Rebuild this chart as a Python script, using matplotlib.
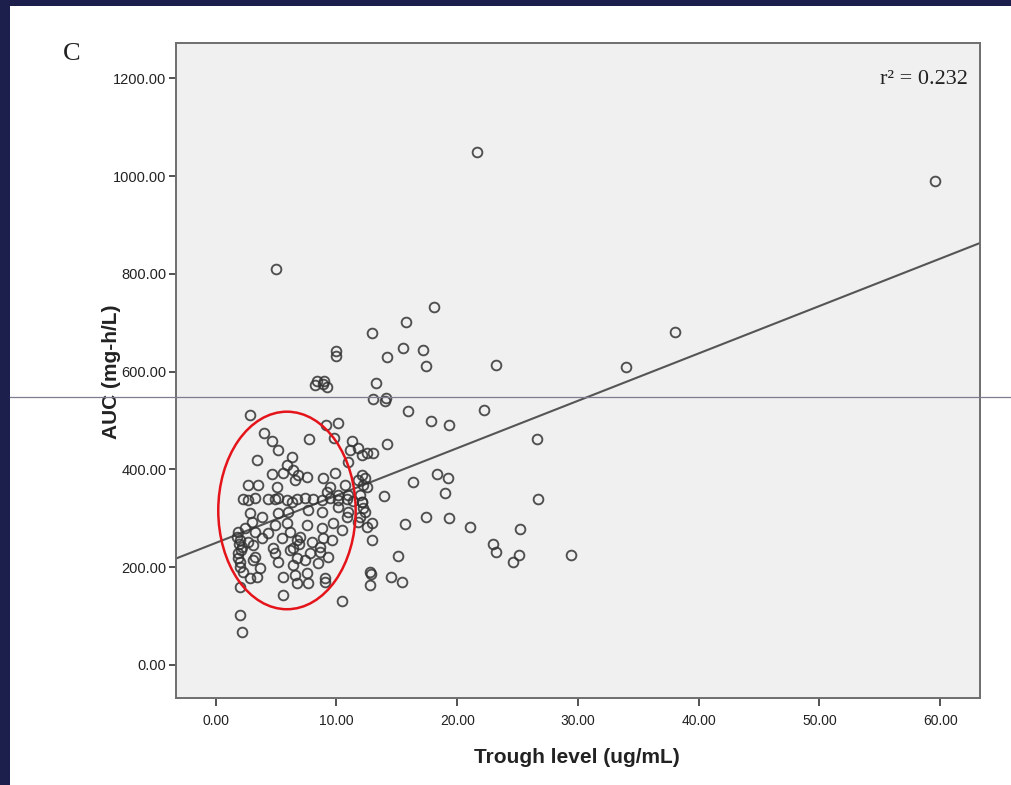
import matplotlib
matplotlib.use("Agg")
import matplotlib.pyplot as plt
from matplotlib.patches import Ellipse, Rectangle
from matplotlib.lines import Line2D

# ---------------- data ----------------
trough = [
    21.6, 59.6, 5.0, 18.1, 15.8, 12.95, 17.2, 15.5, 10.0, 10.0, 14.2, 17.4, 23.2, 34.0, 38.0,
    8.2, 8.4, 8.9, 9.0, 9.2, 13.3, 13.0, 14.1, 14.0, 15.9, 22.2, 17.8, 19.3, 26.6, 26.7,
    14.2, 2.85, 10.1, 9.1, 9.8, 11.3, 11.1, 11.8, 12.1, 12.5, 13.0,
    16.3, 18.3, 19.2, 19.0, 13.9, 12.95, 15.7, 17.4, 19.3, 21.1, 25.2, 12.95, 23.0, 23.2,
    24.6, 25.1, 29.4, 15.1, 12.8, 12.9, 12.8, 14.5, 15.4,
    12.1, 12.4, 12.2, 11.95, 12.1,
    4.0, 4.66, 5.16, 3.42, 6.32, 5.91, 6.4, 6.57, 4.66, 5.58, 7.73, 6.8, 7.56, 8.9, 9.88,
    10.96, 2.68, 3.5, 5.08, 9.47, 10.7, 11.8, 12.5, 9.22, 10.13, 10.96,
    2.26, 2.68, 3.26, 4.33, 4.91, 5.16, 5.91, 6.32, 6.74, 7.40, 8.06, 8.81, 9.47, 10.13,
    10.88, 11.37, 12.12,
    2.84, 5.16, 5.99, 3.84, 7.65, 8.81, 10.13, 10.96, 11.95, 12.2, 12.37, 10.88,
    3.0, 4.91, 5.91, 7.56, 8.81, 9.72, 10.46, 11.79, 12.54, 2.43, 3.26, 4.33, 1.85,
    1.76, 2.01, 2.68, 3.84, 5.5, 2.18, 3.09, 4.74, 6.74, 6.15, 6.98, 7.98, 8.89, 9.63,
    8.64, 6.9, 6.4, 1.9, 2.1,
    1.85, 1.85, 2.01, 2.01, 2.26, 3.26, 3.09, 3.67, 5.16, 4.91, 6.15, 6.74, 7.81, 8.64,
    9.30, 7.40, 6.4, 8.48,
    2.84, 3.42, 2.01, 5.58, 6.57, 6.74, 7.56, 7.65, 9.06, 9.06, 5.58, 10.46, 2.01, 2.18,
]
auc = [
    1050, 990, 810, 732, 701, 679, 644, 648, 642, 632, 630, 611, 613, 609, 681,
    572, 580, 575, 580, 568, 577, 544, 546, 540, 519, 521, 499, 491, 462, 339,
    452, 511, 495, 490, 464, 458, 440, 444, 429, 433, 434,
    375, 391, 383, 352, 346, 290, 288, 303, 301, 282, 278, 256, 248, 231,
    211, 225, 225, 223, 190, 186, 164, 180, 170,
    389, 382, 368, 348, 333,
    474, 458, 440, 419, 425, 409, 399, 378, 391, 393, 462, 389, 384, 382, 393,
    415, 368, 368, 364, 364, 368, 378, 364, 354, 348, 348,
    340, 338, 342, 340, 339, 342, 338, 333, 340, 342, 340, 338, 341, 337,
    340, 336, 333,
    311, 311, 313, 303, 317, 313, 323, 313, 303, 321, 313, 303,
    292, 286, 290, 286, 280, 290, 276, 292, 282, 280, 272, 270, 272,
    262, 256, 252, 260, 260, 241, 245, 239, 256, 272, 262, 252, 260, 256,
    241, 248, 239, 248, 236,
    229, 219, 211, 200, 190, 221, 215, 198, 211, 229, 235, 219, 229, 231,
    221, 215, 204, 209,
    178, 180, 160, 180, 184, 168, 188, 168, 178, 170, 143, 131, 102, 67,
]

x_ticks = [0, 10, 20, 30, 40, 50, 60]
x_tick_labels = ["0.00", "10.00", "20.00", "30.00", "40.00", "50.00", "60.00"]
y_ticks = [0, 200, 400, 600, 800, 1000, 1200]
y_tick_labels = ["0.00", "200.00", "400.00", "600.00", "800.00", "1000.00", "1200.00"]

fit_intercept = 249.6
fit_slope = 9.69
r2_text = "r\u00b2 = 0.232"
panel_label = "C"
x_label = "Trough level (ug/mL)"
y_label = "AUC (mg-h/L)"

# ---------------- figure ----------------
W, H = 1012, 785
fig = plt.figure(figsize=(W / 100, H / 100), dpi=100, facecolor="white")

# navy page border (top and left)
navy = "#1c1e4b"
fig.patches.append(Rectangle((0, 1 - 6 / H), 1, 6 / H, transform=fig.transFigure,
                             facecolor=navy, edgecolor="none", zorder=0))
fig.patches.append(Rectangle((0, 0), 10 / W, 1, transform=fig.transFigure,
                             facecolor=navy, edgecolor="none", zorder=0))

ax_l, ax_r, ax_t, ax_b = 176, 980, 43, 697.7
ax = fig.add_axes([ax_l / W, 1 - ax_b / H, (ax_r - ax_l) / W, (ax_b - ax_t) / H])
ax.set_facecolor("#f0f0f0")

ax.set_xlim(-3.29, 63.3)
ax.set_ylim(-66.9, 1272)

ax.plot(trough, auc, linestyle="none", marker="o", markersize=7.0,
        markerfacecolor="none", markeredgecolor="#333333", markeredgewidth=1.35,
        alpha=0.85, zorder=3)

x0, x1 = ax.get_xlim()
ax.plot([x0, x1], [fit_intercept + fit_slope * x0, fit_intercept + fit_slope * x1],
        color="#555555", linewidth=1.5, zorder=2)

# red ellipse annotation
ax.add_patch(Ellipse((5.9, 316), 11.38, 404, facecolor="none", edgecolor="#e5141b",
                     linewidth=1.8, zorder=4))

for s in ax.spines.values():
    s.set_color("#6e6e6e")
    s.set_linewidth(1.4)

ax.set_xticks(x_ticks)
ax.set_xticklabels(x_tick_labels)
ax.set_yticks(y_ticks)
ax.set_yticklabels(y_tick_labels)
ax.tick_params(axis="x", direction="out", length=6, width=1.3, color="#444444",
               pad=6, labelsize=10, labelcolor="#222222")
ax.tick_params(axis="y", direction="out", length=5, width=1.3, color="#444444",
               pad=2, labelsize=10.5, labelcolor="#222222")
for lab in ax.get_xticklabels() + ax.get_yticklabels():
    lab.set_fontfamily("Liberation Sans")

ax.set_xlabel(x_label, fontsize=15, fontweight="bold", family="Liberation Sans",
              color="#222222")
ax.xaxis.set_label_coords(0.4988, -0.092)
ax.xaxis.label.set_va("center")
ax.set_ylabel(y_label, fontsize=15, fontweight="bold", family="Liberation Sans",
              color="#222222")
ax.yaxis.set_label_coords(-0.080, 0.4975)
ax.yaxis.label.set_va("center")

fig.text(968 / W, 1 - 80 / H, r2_text, ha="right", va="center",
         fontsize=16, family="Liberation Serif", color="#222222")
fig.text(72 / W, 1 - 54 / H, panel_label, ha="center", va="center",
         fontsize=19, family="Liberation Serif", color="#222222")

# thin horizontal rule crossing the page
fig.add_artist(Line2D([10 / W, 1], [1 - 397 / H, 1 - 397 / H], transform=fig.transFigure,
                      color="#7c7c92", linewidth=0.9, zorder=10))

fig.savefig("out.png", dpi=100, facecolor="white")
